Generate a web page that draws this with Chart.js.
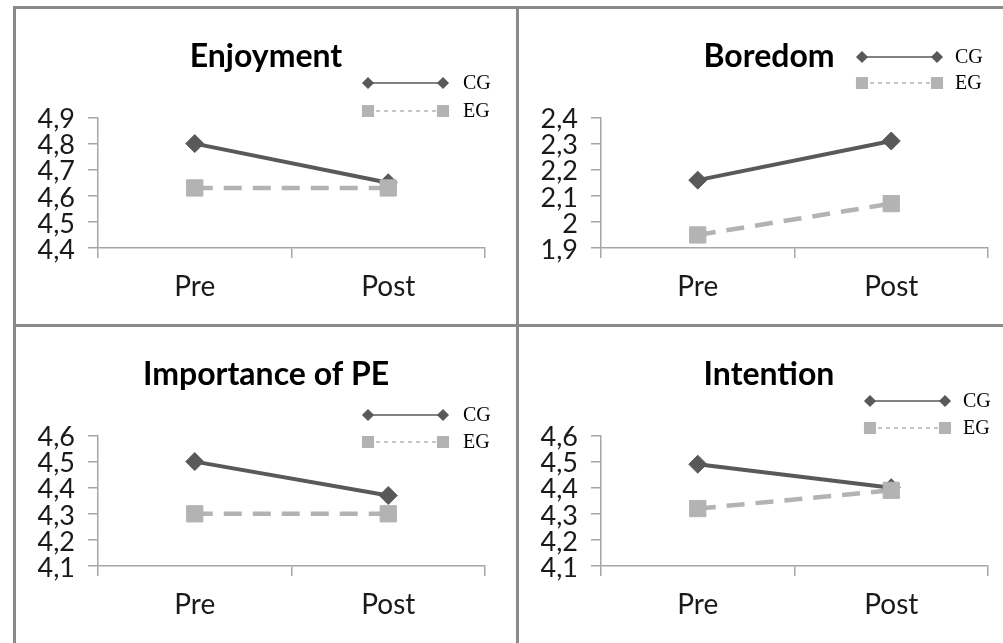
<!DOCTYPE html>
<html>
<head>
<meta charset="utf-8">
<title>Pre / Post comparison</title>
<script src="https://cdn.jsdelivr.net/npm/chart.js@4.4.1/dist/chart.umd.min.js"></script>
<style>
  html, body { margin: 0; padding: 0; background: #fff; }
  #board { position: relative; width: 1003px; height: 643px; overflow: hidden; background: #fff; }
  #board canvas { position: absolute; }
  .rule { position: absolute; background: #8a8a8a; }
</style>
</head>
<body>
<div id="board">
  <canvas id="enjoyment" width="504" height="318" style="left:14px;top:7px"></canvas>
  <canvas id="boredom" width="504" height="318" style="left:517px;top:7px"></canvas>
  <canvas id="importance" width="504" height="318" style="left:14px;top:325px"></canvas>
  <canvas id="intention" width="504" height="318" style="left:517px;top:325px"></canvas>
  <div class="rule" style="left:13px;top:6px;width:990px;height:3px"></div>
  <div class="rule" style="left:13px;top:6px;width:3px;height:637px"></div>
  <div class="rule" style="left:516px;top:6px;width:3px;height:637px"></div>
  <div class="rule" style="left:13px;top:324px;width:990px;height:3px"></div>
</div>
<script>
// Measurement occasions
const phases = ['Pre', 'Post'];
const groups = ['CG', 'EG'];

// Group means per construct
const enjoymentCG = [4.80, 4.65];
const enjoymentEG = [4.63, 4.63];
const boredomCG = [2.16, 2.31];
const boredomEG = [1.95, 2.07];
const importanceCG = [4.50, 4.37];
const importanceEG = [4.30, 4.30];
const intentionCG = [4.49, 4.40];
const intentionEG = [4.32, 4.39];

// Value axis ranges [min, max]
const enjoymentRange = [4.4, 4.9];
const boredomRange = [1.9, 2.4];
const importanceRange = [4.1, 4.6];
const intentionRange = [4.1, 4.6];

const CG_COLOR = '#595959';
const EG_COLOR = '#b3b3b3';
const AXIS_COLOR = '#a6a6a6';
const SANS = 'Lato, Carlito, Calibri, sans-serif';

// Excel-style key: a short line with a marker at both ends, followed by the label
const sideKey = {
  id: 'sideKey',
  afterDraw(chart, args, opts) {
    const ctx = chart.ctx;
    chart.data.datasets.forEach((ds, i) => {
      const y = opts.rows[i];
      const k = ds.keyStyle;
      ctx.save();
      ctx.strokeStyle = ds.borderColor;
      ctx.lineWidth = k.lineWidth;
      ctx.setLineDash(k.dash);
      ctx.beginPath();
      ctx.moveTo(opts.x0, y);
      ctx.lineTo(opts.x1, y);
      ctx.stroke();
      ctx.setLineDash([]);
      ctx.fillStyle = ds.pointBackgroundColor;
      ctx.strokeStyle = ds.pointBorderColor;
      const pt = { pointStyle: ds.pointStyle, radius: k.radius, borderWidth: 1, rotation: 0 };
      Chart.helpers.drawPoint(ctx, pt, opts.x0, y);
      Chart.helpers.drawPoint(ctx, pt, opts.x1, y);
      ctx.fillStyle = '#000';
      ctx.font = '20px "Liberation Serif", "Times New Roman", serif';
      ctx.textAlign = 'left';
      ctx.textBaseline = 'middle';
      ctx.fillText(ds.label, opts.textX, y + 1);
      ctx.restore();
    });
  }
};

function decimalComma(v) {
  return String(Math.round(v * 10) / 10).replace('.', ',');
}

function makePanel(id, title, cg, eg, range, key) {
  return new Chart(document.getElementById(id), {
    type: 'line',
    data: {
      labels: phases,
      datasets: [
        {
          label: groups[0],
          data: cg,
          borderColor: CG_COLOR,
          backgroundColor: CG_COLOR,
          borderWidth: 4,
          pointStyle: 'rectRot',
          pointRadius: 9,
          pointBackgroundColor: CG_COLOR,
          pointBorderColor: CG_COLOR,
          pointBorderWidth: 1,
          tension: 0,
          order: 1,
          keyStyle: { lineWidth: 1.5, dash: [], radius: 5 }
        },
        {
          label: groups[1],
          data: eg,
          borderColor: EG_COLOR,
          backgroundColor: EG_COLOR,
          borderWidth: 4.5,
          borderDash: [18, 11],
          pointStyle: 'rect',
          pointRadius: 11.5,
          pointBackgroundColor: EG_COLOR,
          pointBorderColor: EG_COLOR,
          pointBorderWidth: 1,
          tension: 0,
          order: 0,
          keyStyle: { lineWidth: 1.5, dash: [4, 4], radius: 7.5 }
        }
      ]
    },
    options: {
      responsive: false,
      animation: false,
      devicePixelRatio: 1,
      layout: { padding: 0 },
      plugins: {
        legend: { display: false },
        tooltip: { enabled: false },
        title: {
          display: true,
          text: title,
          color: '#000',
          font: { family: SANS, size: 32, weight: 'bold', lineHeight: 1.2 },
          padding: { top: 30.8, bottom: 41.3 }
        },
        sideKey: key
      },
      scales: {
        x: {
          type: 'category',
          offset: true,
          afterFit(scale) { scale.height = 77; },
          border: { display: true, color: AXIS_COLOR, width: 1.5 },
          grid: { offset: true, drawOnChartArea: false, drawTicks: true, tickLength: 10, color: AXIS_COLOR, lineWidth: 1.5 },
          ticks: { color: '#1a1a1a', padding: 12, font: { family: SANS, size: 28 } }
        },
        y: {
          min: range[0],
          max: range[1],
          afterFit(scale) { scale.width = 84; },
          border: { display: true, color: AXIS_COLOR, width: 1.5 },
          grid: { drawOnChartArea: false, drawTicks: true, tickLength: 10, color: AXIS_COLOR, lineWidth: 1.5 },
          ticks: {
            stepSize: 0.1,
            autoSkip: false,
            color: '#1a1a1a',
            padding: 13,
            labelOffset: 2,
            font: { family: SANS, size: 27 },
            callback: (v) => decimalComma(v)
          }
        },
        // blank margin on the right of the plot area
        gutter: {
          type: 'linear',
          position: 'right',
          display: true,
          afterFit(scale) { scale.width = 33; },
          border: { display: false },
          grid: { display: false },
          ticks: { display: false }
        }
      }
    },
    plugins: [sideKey]
  });
}

makePanel('enjoyment', 'Enjoyment', enjoymentCG, enjoymentEG, enjoymentRange,
  { x0: 354, x1: 429, textX: 449, rows: [76, 104] });
makePanel('boredom', 'Boredom', boredomCG, boredomEG, boredomRange,
  { x0: 345, x1: 420, textX: 438, rows: [50, 76] });
makePanel('importance', 'Importance of PE', importanceCG, importanceEG, importanceRange,
  { x0: 354, x1: 429, textX: 449, rows: [90, 117] });
makePanel('intention', 'Intention', intentionCG, intentionEG, intentionRange,
  { x0: 353, x1: 428, textX: 446, rows: [76, 103] });
</script>
</body>
</html>
